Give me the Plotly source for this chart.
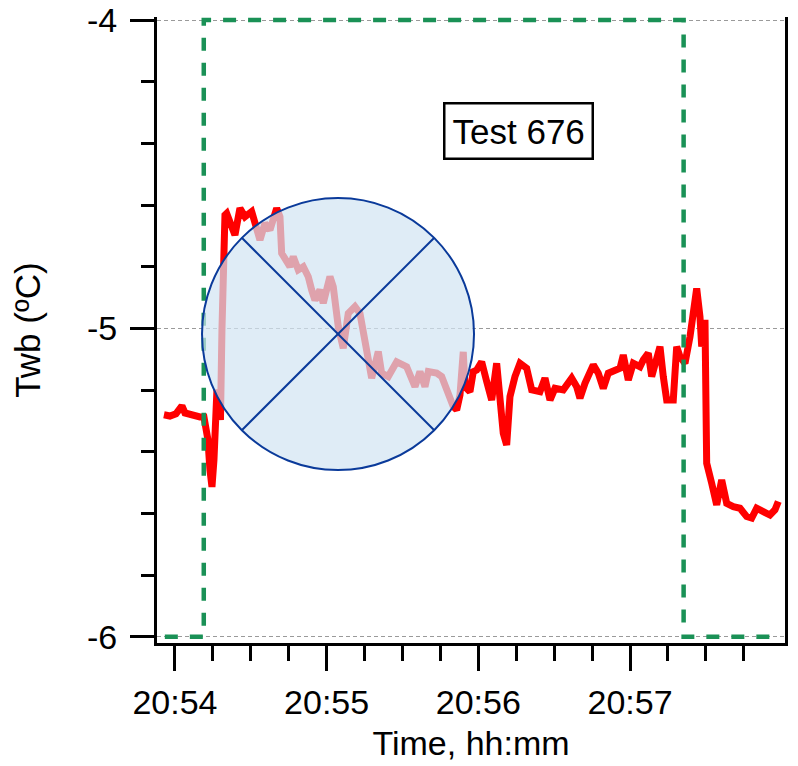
import pandas as pd
import plotly.graph_objects as go

# ---- data ----
BASE = "2024-01-01 20:54:00"
# seconds relative to 20:54:00 and wet-bulb temperature (deg C)
twb_sec = [-4.35, -1.98, 0.40, 1.98, 2.77, 3.96, 5.93, 7.91, 9.89, 11.47, 12.26, 13.05, 13.84,
           14.64, 15.43, 16.02, 16.61, 17.41, 18.00, 18.59, 19.19, 19.78, 20.45, 21.76, 23.73,
           25.71, 27.69, 30.34, 31.65, 33.62, 35.60, 37.58, 40.23, 41.53, 42.21, 44.18, 45.49,
           46.80, 48.77, 50.75, 52.73, 54.07, 55.38, 57.36, 58.66, 61.31, 62.62, 64.60, 66.57,
           68.55, 71.20, 73.18, 74.49, 76.46, 77.81, 80.42, 81.76, 84.37, 87.70, 91.65, 94.94,
           96.91, 98.89, 100.20, 103.52, 105.50, 107.48, 110.09, 111.43, 112.74, 114.04, 114.72,
           116.69, 118.00, 119.34, 121.32, 123.30, 125.28, 127.25, 128.56, 129.87, 131.21,
           132.52, 134.49, 136.47, 139.12, 141.10, 144.38, 146.36, 148.34, 150.32, 153.60,
           156.92, 158.90, 160.21, 162.18, 165.47, 167.44, 169.42, 171.40, 173.38, 176.03,
           177.33, 179.31, 181.29, 183.94, 185.25, 187.22, 188.57, 190.55, 191.85, 193.16,
           194.50, 197.11, 198.46, 199.76, 201.74, 203.72, 206.37, 207.67, 208.35, 209.65,
           210.32, 212.30, 214.28, 216.26, 218.24, 220.85, 223.50, 226.15, 228.12, 230.10,
           232.71, 235.36, 237.34, 238.65]
twb_val = [-5.280, -5.284, -5.277, -5.264, -5.251, -5.274, -5.280, -5.284, -5.287, -5.287, -5.313,
           -5.361, -5.459, -5.514, -5.426, -5.297, -5.199, -5.216, -5.297, -5.005, -4.713, -4.632,
           -4.627, -4.655, -4.697, -4.610, -4.638, -4.621, -4.654, -4.713, -4.659, -4.681, -4.610,
           -4.638, -4.756, -4.778, -4.800, -4.767, -4.810, -4.800, -4.832, -4.875, -4.908, -4.875,
           -4.918, -4.832, -4.865, -4.994, -5.064, -4.951, -4.929, -4.951, -5.005, -5.091, -5.161,
           -5.075, -5.145, -5.156, -5.108, -5.124, -5.189, -5.140, -5.189, -5.140, -5.145, -5.156,
           -5.199, -5.253, -5.264, -5.216, -5.076, -5.189, -5.205, -5.140, -5.135, -5.108, -5.172,
           -5.232, -5.113, -5.232, -5.340, -5.378, -5.221, -5.156, -5.113, -5.129, -5.199, -5.205,
           -5.161, -5.232, -5.194, -5.199, -5.161, -5.189, -5.226, -5.178, -5.118, -5.145, -5.194,
           -5.145, -5.140, -5.129, -5.086, -5.167, -5.113, -5.124, -5.102, -5.080, -5.156, -5.102,
           -5.059, -5.156, -5.232, -5.232, -5.059, -5.091, -5.113, -5.027, -4.870, -4.962, -5.059,
           -4.972, -5.437, -5.502, -5.572, -5.491, -5.567, -5.578, -5.583, -5.610, -5.615, -5.583,
           -5.594, -5.605, -5.588, -5.561]

# test-window indicator (step)
win_sec = [-4.0, 11.4, 11.4, 201.2, 201.2, 236.0]
win_val = [-6.0, -6.0, -4.0, -4.0, -6.0, -6.0]

x_range_sec = [-7.1, 241.3]
x_major_sec = [0, 60, 120, 180]                       # 20:54 ... 20:57
x_minor_sec = [15, 30, 45, 75, 90, 105, 135, 150, 165, 195, 210, 225]
y_range = [-6.02, -3.99]
y_tickvals = [-6, -5, -4]
y_ticktext = ["-6", "-5", "-4"]

label_text = "Test 676"
label_sec, label_val = 135.7, -4.36
mark_sec, mark_val = 64.5, -5.018

# ---- build ----
base = pd.Timestamp(BASE)
to_t = lambda secs: [base + pd.Timedelta(seconds=s) for s in secs]

FONT = "Arial, Liberation Sans, sans-serif"
fig = go.Figure()
fig.add_trace(go.Scatter(x=to_t(twb_sec), y=twb_val, mode="lines",
                         line=dict(color="#ff0000", width=7), showlegend=False))
fig.add_trace(go.Scatter(x=to_t(win_sec), y=win_val, mode="lines",
                         line=dict(color="#1a9156", width=4.5, dash="13px,12px"),
                         showlegend=False))

mark_x = base + pd.Timedelta(seconds=mark_sec)
common = dict(xref="x", yref="y", xsizemode="pixel", ysizemode="pixel",
              xanchor=mark_x, yanchor=mark_val, layer="above")
fig.add_shape(type="circle", x0=-136, x1=136, y0=-136, y1=136,
              fillcolor="rgba(210,228,243,0.71)", line=dict(color="#0a3a9a", width=2), **common)
fig.add_shape(type="line", x0=-96, y0=96, x1=96, y1=-96,
              line=dict(color="#0a3a9a", width=2), **common)
fig.add_shape(type="line", x0=-96, y0=-96, x1=96, y1=96,
              line=dict(color="#0a3a9a", width=2), **common)

fig.add_annotation(x=base + pd.Timedelta(seconds=label_sec), y=label_val, text=label_text,
                   showarrow=False, font=dict(family=FONT, size=35, color="black"),
                   bordercolor="black", borderwidth=2.5, borderpad=7, bgcolor="white")

fig.update_layout(
    width=790, height=758,
    margin=dict(l=149, r=13, t=9, b=123),
    plot_bgcolor="white", paper_bgcolor="white",
    font=dict(family=FONT, size=34, color="black"),
    xaxis=dict(
        type="date", range=to_t(x_range_sec), tickformat="%H:%M",
        tickmode="array", tickvals=to_t(x_major_sec),
        ticks="outside", ticklen=25, tickwidth=2.5,
        tickcolor="black", showline=True, linewidth=3, linecolor="black",
        showgrid=False, zeroline=False, automargin=False,
        minor=dict(tickmode="array", tickvals=to_t(x_minor_sec), ticks="outside",
                   ticklen=15, tickwidth=2.5, tickcolor="black", showgrid=False),
        tickfont=dict(size=34), ticklabelstandoff=2, ticklabeloverflow="allow",
        title=dict(text="Time, hh:mm", font=dict(size=34), standoff=12),
    ),
    yaxis=dict(
        range=y_range, tickvals=y_tickvals, ticktext=y_ticktext,
        ticks="outside", ticklen=24, tickwidth=2.5, tickcolor="black",
        showline=True, linewidth=3, linecolor="black", mirror=True,
        showgrid=True, gridcolor="#9a9a9a", gridwidth=1, griddash="4px,3px",
        zeroline=False, automargin=False,
        minor=dict(dtick=0.2, tick0=-6, ticks="outside", ticklen=13, tickwidth=2.5,
                   tickcolor="black", showgrid=False),
        tickfont=dict(size=34), ticklabelstandoff=6, ticklabeloverflow="allow",
        title=dict(text="Twb (ºC)", font=dict(size=35), standoff=36),
    ),
)
fig.write_html("out.html")
